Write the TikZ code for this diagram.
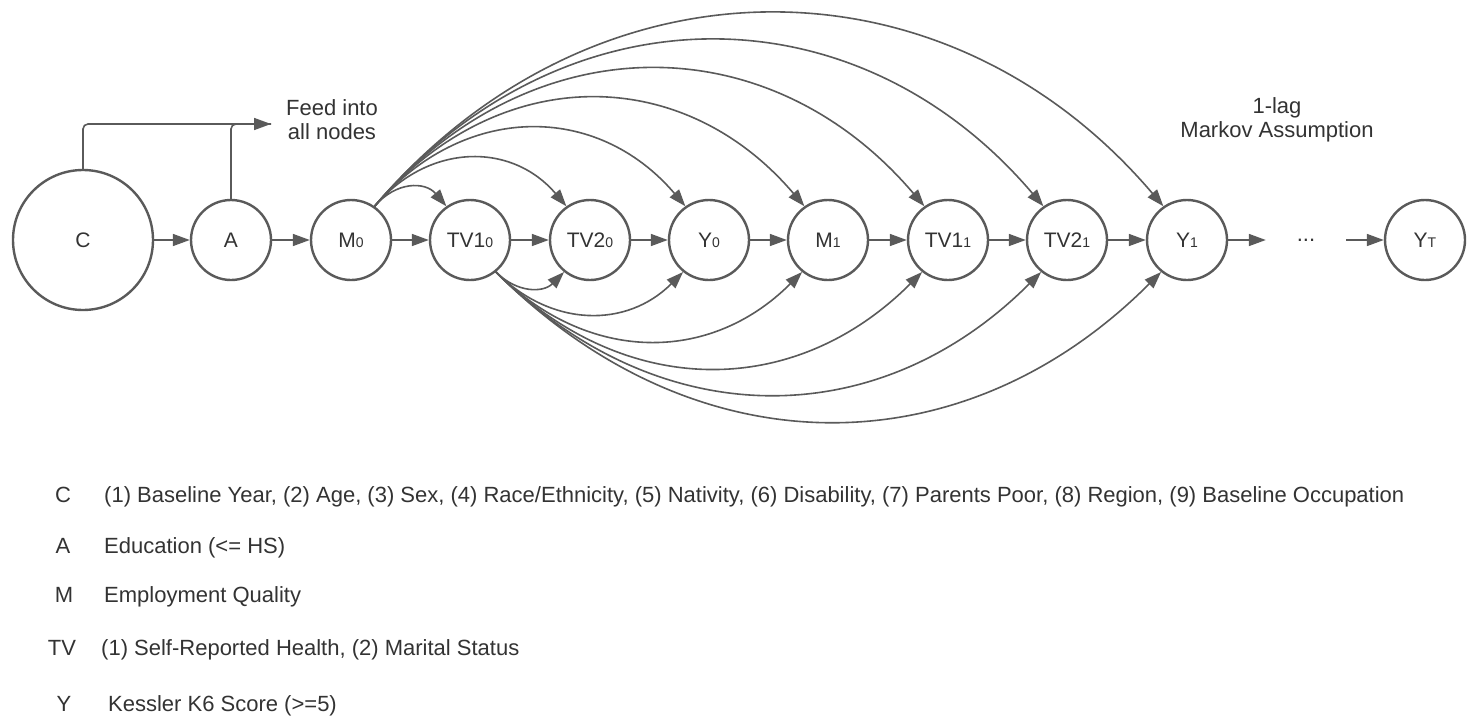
\documentclass[tikz,border=0pt]{standalone}
\usepackage{fontspec}
\setmainfont{Liberation Sans}
\usetikzlibrary{arrows.meta}
\definecolor{ln}{HTML}{5A5A5A}
\definecolor{tx}{HTML}{333333}
\newcommand\lsub[1]{{\fontsize{14}{14}\selectfont #1}}
\tikzset{
  nd/.style={circle,draw=ln,line width=2.4pt,minimum size=80pt,inner sep=0pt,text=tx,font=\fontsize{21}{25}\selectfont},
  conn/.style={draw=ln,line width=1.6pt,-{Triangle[length=17pt,width=12pt]}},
  lbl/.style={text=tx,font=\fontsize{22}{26}\selectfont,align=center},
  legl/.style={text=tx,font=\fontsize{22}{26}\selectfont,anchor=center,text height=16pt,text depth=4pt,inner sep=0pt},
  legt/.style={text=tx,font=\fontsize{22}{26}\selectfont,anchor=west,text height=16pt,text depth=4pt,inner sep=0pt},
}
\begin{document}
\begin{tikzpicture}[x=1pt,y=-1pt]
\useasboundingbox[fill=white] (0,0) rectangle (1475,723);
% nodes
\node[nd,minimum size=140pt] (C) at (83,240) {C};
\node[nd] (A) at (231,240) {A};
\node[nd] (M0) at (351,240) {M\lsub{0}};
\node[nd] (TVa0) at (470,240) {TV1\lsub{0}};
\node[nd] (TVb0) at (590,240) {TV2\lsub{0}};
\node[nd] (Y0) at (709,240) {Y\lsub{0}};
\node[nd] (M1) at (828,240) {M\lsub{1}};
\node[nd] (TVa1) at (948,240) {TV1\lsub{1}};
\node[nd] (TVb1) at (1067,240) {TV2\lsub{1}};
\node[nd] (Y1) at (1187,240) {Y\lsub{1}};
\node[lbl,minimum width=80pt,inner sep=0pt] (dots) at (1306,240) {...};
\node[nd] (YT) at (1425,240) {Y\lsub{T}};
% labels
\node[lbl] (feed) at (332,119.5) {Feed into\\[-2pt]all nodes};
\node[lbl] (markov) at (1277,119.5) {1-lag\\[-2pt]Markov Assumption};
% feed lines
\coordinate (feedend) at (271,124);
\draw[draw=ln,line width=1.6pt,rounded corners=5pt] (C.north) |- (feedend);
\draw[conn,rounded corners=5pt] (A.north) |- (feedend);
% chain
\foreach \a/\b in {C/A,A/M0,M0/TVa0,TVa0/TVb0,TVb0/Y0,Y0/M1,M1/TVa1,TVa1/TVb1,TVb1/Y1,Y1/dots,dots/YT}
  \draw[conn] (\a) -- (\b);
% top arcs from M0
\foreach \t/\h in {TVa0/25,TVb0/64,Y0/104,M1/144,TVa1/183,TVb1/221,Y1/257}
  \draw[conn] (M0.55) .. controls +(0.85*\h,-\h) and +(-0.85*\h,-\h) .. (\t.125);
% bottom arcs from TV1_0
\foreach \t/\h in {TVb0/21,Y0/56,M1/92,TVa1/128,TVb1/163,Y1/199}
  \draw[conn] (TVa0.-51) .. controls +(\h,\h) and +(-\h,\h) .. (\t.-129);
% legend
\node[legl] (lC) at (63,496) {C};
\node[legt] (tC) at (104,496) {(1) Baseline Year, (2) Age, (3) Sex, (4) Race/Ethnicity, (5) Nativity, (6) Disability, (7) Parents Poor, (8) Region, (9) Baseline Occupation};
\node[legl] (lA) at (63,547) {A};
\node[legt] (tA) at (104,547) {Education (<= HS)};
\node[legl] (lM) at (64,596) {M};
\node[legt] (tM) at (104,596) {Employment Quality};
\node[legl] (lTV) at (62,649) {TV};
\node[legt] (tTV) at (101,649) {(1) Self-Reported Health, (2) Marital Status};
\node[legl] (lY) at (64,705) {Y};
\node[legt] (tY) at (108,705) {Kessler K6 Score (>=5)};
\end{tikzpicture}
\end{document}
